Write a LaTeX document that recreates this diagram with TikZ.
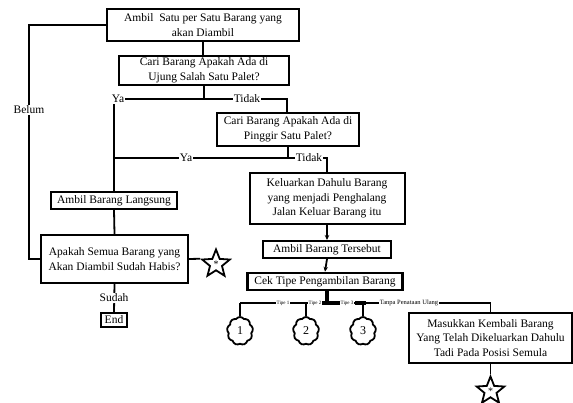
\documentclass[tikz,border=0pt]{standalone}
\usepackage{fontspec}
\setmainfont{Liberation Serif}
\usetikzlibrary{shapes.geometric,shapes.symbols,arrows.meta}
\begin{document}
\begin{tikzpicture}[x=1pt,y=-1pt,
  box/.style={draw,line width=2pt,align=center,inner sep=0pt,font=\fontsize{11.5}{14.5}\selectfont},
  conn/.style={line width=1.8pt},
  lbl/.style={fill=white,inner sep=1pt,font=\fontsize{11.5}{14}\selectfont},
  tinylbl/.style={fill=white,inner sep=0.8pt,font=\fontsize{5}{5.5}\selectfont},
  smalllbl/.style={fill=white,inner sep=0.8pt,font=\fontsize{6.5}{7}\selectfont},
  conncircle/.style={draw,cloud,cloud puffs=9,cloud puff arc=110,aspect=1,line width=1.8pt,minimum width=26pt,minimum height=28pt,inner sep=0pt,font=\fontsize{12}{14}\selectfont},
  starnode/.style={draw,star,star points=5,star point ratio=2.3,minimum size=29pt,inner sep=0pt,line width=1.8pt,font=\fontsize{10}{10}\selectfont},
  arr/.style={conn,-{Stealth[length=5pt,width=4.5pt]}}
]
\useasboundingbox (0,0) rectangle (573,403);

% boxes
\node[box,minimum width=192pt,minimum height=32pt] (b1) at (203,25) {Ambil~ Satu per Satu Barang yang\\akan Diambil};
\node[box,minimum width=170pt,minimum height=29pt] (b2) at (204,70.5) {Cari Barang Apakah Ada di\\Ujung Salah Satu Palet?};
\node[box,minimum width=142pt,minimum height=33pt] (b3) at (288,129.5) {Cari Barang Apakah Ada di\\Pinggir Satu Palet?};
\node[box,minimum width=155pt,minimum height=51pt] (b4) at (327,198.5) {Keluarkan Dahulu Barang\\yang menjadi Penghalang\\Jalan Keluar Barang itu};
\node[box,minimum width=128pt,minimum height=17pt] (b5) at (327,249.5) {Ambil Barang Tersebut};
\node[box,line width=2.5pt,minimum width=155pt,minimum height=17pt] (b6) at (325,281.5) {Cek Tipe Pengambilan Barang};
\node[box,minimum width=163pt,minimum height=50pt] (b7) at (490.5,338) {Masukkan Kembali Barang\\Yang Telah Dikeluarkan Dahulu\\Tadi Pada Posisi Semula};
\node[box,minimum width=126pt,minimum height=17pt] (bL) at (114,200.5) {Ambil Barang Langsung};
\node[box,minimum width=147pt,minimum height=48pt] (bA) at (114.5,259) {Apakah Semua Barang yang\\Akan Diambil Sudah Habis?};
\node[box,minimum width=26pt,minimum height=14pt] (bE) at (114,320) {End};

% connector circles and stars
\node[conncircle] (c1) at (240,331) {1};
\node[conncircle] (c2) at (306,331) {2};
\node[conncircle] (c3) at (363,331) {3};
\node[starnode] (sL) at (216,264) {*};
\node[starnode] (sR) at (490.5,391) {*};

% junction coordinates
\coordinate (y1) at (114,99);
\coordinate (t1) at (287,99);
\coordinate (y2) at (114,158);
\coordinate (t2) at (327,158);
\coordinate (bl1) at (29,25);
\coordinate (bl2) at (29,259);
\coordinate (j) at (327,303);
\coordinate (jl) at (240,303);
\coordinate (jr) at (490.5,303);

% connectors
\draw[conn] (b1.south) -- (b1.south |- b2.north);
\draw[conn] (b2.south) -- (b2.south |- y1) -- (y1) -- (bL.north);
\draw[conn] (b2.south |- y1) -- (t1) -- (t1 |- b3.north);
\draw[conn] (b3.south) -- (b3.south |- y2) -- (y2);
\draw[conn] (b3.south |- y2) -- (t2) -- (b4.north);
\draw[arr] (b4.south) -- (b5.north);
\draw[arr] (b5.south) -- (b6.north);
\draw[conn] (bL.south) -- (bA.north);
\draw[conn] (b1.west) -- (bl1) -- (bl2) -- (bA.west);
\draw[conn] (bA.south) -- (bE.north);
\draw[conn] (bA.east) -- (sL.outer point 2);
\draw[conn] (b7.south) -- (sR.outer point 1);

\draw[line width=3.2pt] (j |- b6.south) -- (j);
\draw[conn] (jl) -- (jr) -- (b7.north);
\draw[line width=3.2pt] (321,303) -- (340,303);
\draw[line width=3.2pt] (355,303) -- (366,303);
\draw[conn] (jl) -- (c1.north);
\draw[conn] (c2.north |- j) -- (c2.north);
\draw[conn] (c3.north |- j) -- (c3.north);

% labels
\node[lbl] (lya1) at (118,99) {Ya};
\node[lbl] (ltd1) at (247,99) {Tidak};
\node[lbl] (lya2) at (186,158) {Ya};
\node[lbl] (ltd2) at (309,158) {Tidak};
\node[lbl] (lbel) at (29,110) {Belum};
\node[lbl] (lsud) at (114,298) {Sudah};
\node[tinylbl] (lt1) at (283,303) {Tipe 1};
\node[tinylbl] (lt2) at (315,303) {Tipe 2};
\node[tinylbl] (lt3) at (347,303) {Tipe 3};
\node[smalllbl] (ltp) at (409,303) {Tanpa Penataan Ulang};
\end{tikzpicture}
\end{document}
